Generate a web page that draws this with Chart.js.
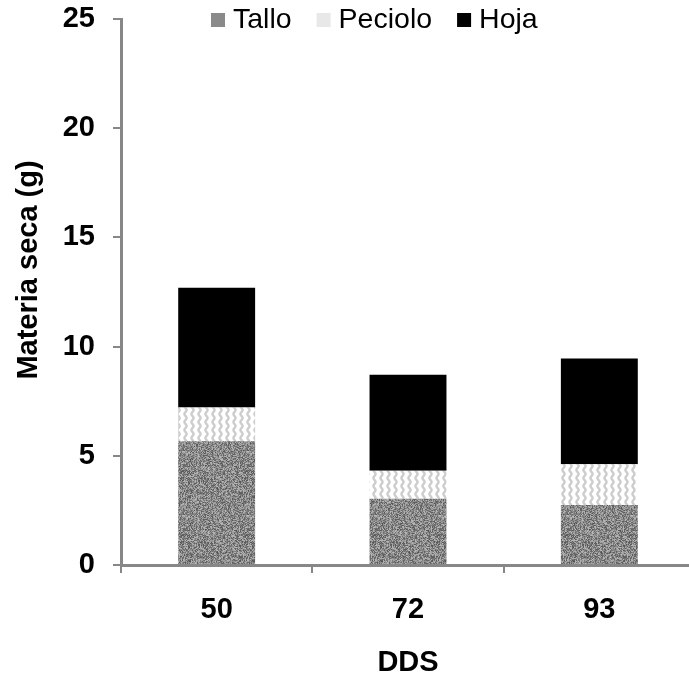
<!DOCTYPE html>
<html>
<head>
<meta charset="utf-8">
<script src="https://cdn.jsdelivr.net/npm/chart.js@4/dist/chart.umd.min.js"></script>
<style>
  html, body { margin: 0; padding: 0; background: #fff; overflow: hidden; }
  canvas { display: block; }
</style>
</head>
<body>
<canvas id="chart" width="700" height="681"></canvas>
<script>
const categories = ['50', '72', '93'];
const seriesNames = ['Tallo', 'Peciolo', 'Hoja'];
const talloValues = [5.67, 3.03, 2.75];
const pecioloValues = [1.54, 1.28, 1.86];
const hojaValues = [5.49, 4.40, 4.85];
const yTicks = [0, 5, 10, 15, 20, 25];
const yTitle = 'Materia seca (g)';
const xTitle = 'DDS';

const axisGray = '#878787';
const fontFamily = '"Liberation Sans", Arial, sans-serif';

// grainy gray texture for "Tallo"
function grainPattern() {
  const c = document.createElement('canvas');
  c.width = 64; c.height = 64;
  const g = c.getContext('2d');
  const img = g.createImageData(64, 64);
  for (let y = 0; y < 64; y++) {
    for (let x = 0; x < 64; x++) {
      let h = (x * 374761393 + y * 668265263) | 0;
      h = Math.imul(h ^ (h >>> 13), 1274126177);
      h = (h ^ (h >>> 16)) & 255;
      const v = 85 + Math.round(h * 0.4);
      const i = (y * 64 + x) * 4;
      img.data[i] = img.data[i + 1] = img.data[i + 2] = v;
      img.data[i + 3] = 255;
    }
  }
  g.putImageData(img, 0, 0);
  return g.createPattern(c, 'repeat');
}

// white with vertical wavy lines for "Peciolo"
function wavePattern() {
  const c = document.createElement('canvas');
  c.width = 7; c.height = 8;
  const g = c.getContext('2d');
  g.fillStyle = '#ffffff';
  g.fillRect(0, 0, 7, 8);
  g.strokeStyle = '#cdcdcd';
  g.lineWidth = 2.4;
  g.beginPath();
  for (let y = -1; y <= 9; y += 0.5) {
    const x = 3.5 + 1.1 * Math.sin(2 * Math.PI * y / 8);
    if (y === -1) g.moveTo(x, y); else g.lineTo(x, y);
  }
  g.stroke();
  return g.createPattern(c, 'repeat');
}

const fills = [grainPattern(), wavePattern(), '#000000'];
const legendFills = ['#8a8a8a', '#e8e8e8', '#000000'];

// legend across the top and the rotated y title
const annotations = {
  id: 'annotations',
  afterDraw(chart) {
    const ctx = chart.ctx;
    ctx.save();
    ctx.font = '28.5px ' + fontFamily;
    ctx.textBaseline = 'alphabetic';
    let x = 211;
    chart.data.datasets.forEach((ds, i) => {
      ctx.fillStyle = legendFills[i];
      ctx.fillRect(x, 13, 14, 14);
      x += 14 + 8;
      ctx.fillStyle = '#000';
      ctx.fillText(ds.label, x, 28);
      x += ctx.measureText(ds.label).width + 25;
    });

    ctx.translate(29, 270);
    ctx.rotate(-Math.PI / 2);
    ctx.font = 'bold 29px ' + fontFamily;
    ctx.textAlign = 'center';
    ctx.textBaseline = 'middle';
    ctx.fillStyle = '#000';
    ctx.fillText(yTitle, 0, 0);
    ctx.restore();
  }
};

const boldFont = { family: fontFamily, size: 29, weight: 'bold' };

new Chart(document.getElementById('chart'), {
  type: 'bar',
  data: {
    labels: categories,
    datasets: [
      { label: seriesNames[0], data: talloValues, backgroundColor: fills[0] },
      { label: seriesNames[1], data: pecioloValues, backgroundColor: fills[1] },
      { label: seriesNames[2], data: hojaValues, backgroundColor: fills[2] }
    ]
  },
  options: {
    responsive: false,
    animation: false,
    layout: { padding: { top: 19, right: 5, left: 0, bottom: 0 } },
    datasets: { bar: { categoryPercentage: 1, barPercentage: 0.402, borderWidth: 0 } },
    plugins: { legend: { display: false }, tooltip: { enabled: false } },
    scales: {
      x: {
        stacked: true,
        afterFit: (s) => { s.height = 116; },
        grid: { offset: true, drawOnChartArea: false, drawTicks: true, tickLength: 8, color: axisGray, lineWidth: 2 },
        border: { color: axisGray, width: 3 },
        ticks: { color: '#000', font: boldFont, padding: 20 },
        title: { display: true, text: xTitle, color: '#000', font: boldFont, padding: { top: 0, bottom: 1 } }
      },
      y: {
        stacked: true,
        min: 0,
        max: 25,
        afterFit: (s) => { s.width = 121; s.paddingTop = 0; s.paddingBottom = 0; },
        afterBuildTicks: (s) => { s.ticks = yTicks.map(v => ({ value: v })); },
        grid: { drawOnChartArea: false, drawTicks: true, tickLength: 8, color: axisGray, lineWidth: 2 },
        border: { color: axisGray, width: 3 },
        ticks: { color: '#000', font: boldFont, padding: 18 },
        title: { display: false }
      }
    }
  },
  plugins: [annotations]
});
</script>
</body>
</html>
